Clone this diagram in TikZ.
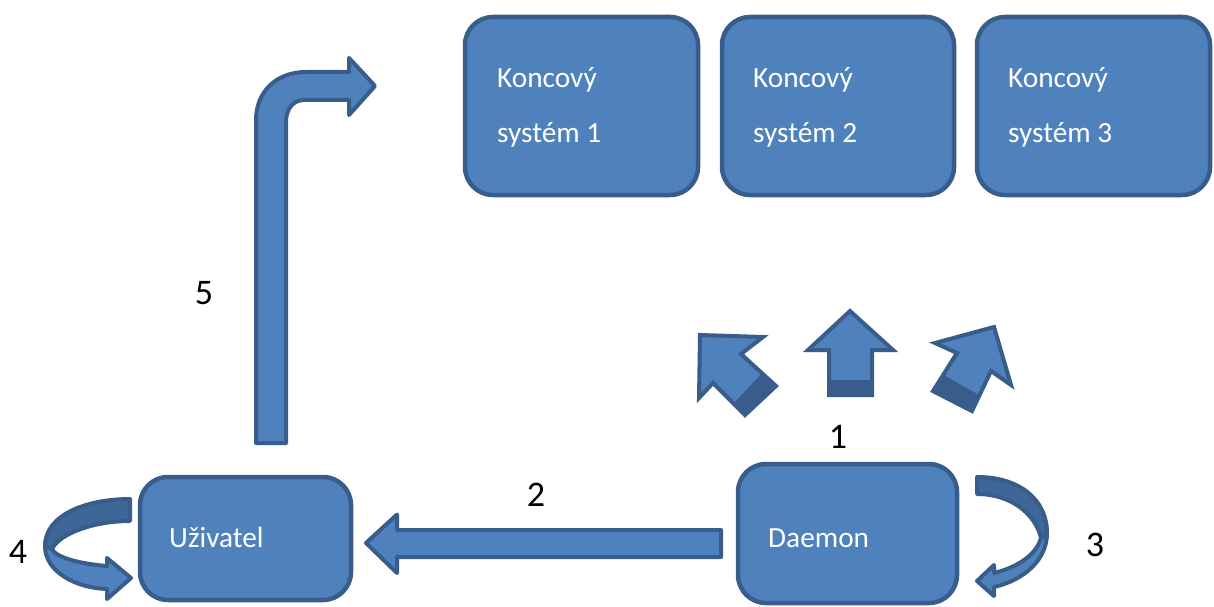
\documentclass[tikz,border=0pt]{standalone}
\usepackage{fontspec}
\setmainfont{Carlito}
\definecolor{bluefill}{HTML}{4F81BD}
\definecolor{blueline}{HTML}{385D8A}
\definecolor{blueback}{HTML}{3F6699}
\begin{document}
\begin{tikzpicture}[x=1pt,y=-1pt,
  box/.style={draw=blueline, fill=bluefill, line width=4.5pt, rounded corners=28pt, inner sep=0pt},
  boxtext/.style={text=white, font=\fontsize{29.3}{34}\selectfont, anchor=base west, inner sep=0pt},
  num/.style={font=\fontsize{36}{40}\selectfont, inner sep=0pt},
  blockarrow/.style={draw=blueline, fill=bluefill, line width=4pt, line join=round},
  backpart/.style={draw=blueline, fill=blueback, line width=4pt, line join=round},
  shade/.style={fill=blueline, draw=none}
]
\useasboundingbox[fill=white] (0,0) rectangle (1214,607);

% end systems
\node[box, minimum width=233pt, minimum height=178pt] (k1) at (581.5,106) {};
\node[box, minimum width=232pt, minimum height=178pt] (k2) at (838,106) {};
\node[box, minimum width=233pt, minimum height=178pt] (k3) at (1093.5,106) {};
\node[boxtext] (k1a) at (497,88) {Koncový};
\node[boxtext] (k1b) at (497,142) {systém 1};
\node[boxtext] (k2a) at (753,88) {Koncový};
\node[boxtext] (k2b) at (753,142) {systém 2};
\node[boxtext] (k3a) at (1008,88) {Koncový};
\node[boxtext] (k3b) at (1008,142) {systém 3};

% user and daemon
\node[box, minimum width=211pt, minimum height=123pt] (user) at (245.5,538.5) {};
\node[box, minimum width=219pt, minimum height=139pt] (daemon) at (847.5,533.5) {};
\node[boxtext] (usert) at (169,547) {Uživatel};
\node[boxtext] (daemont) at (768,547) {Daemon};

% step 2: daemon -> user
\draw[blockarrow] (721,530) -- (397,530) -- (397,514.5) -- (366,543) -- (397,573) -- (397,557) -- (721,557) -- cycle;

% step 5: bent arrow from user towards the end systems
\draw[blockarrow] (256,443) -- (256,120) .. controls (256,92) and (276,72) .. (306,72)
  -- (349,72) -- (349,58) -- (375,86) -- (349,115) -- (349,100) -- (304,100)
  .. controls (294,100) and (286,108) .. (286,122) -- (286,443) -- cycle;

% step 1: three block arrows fanning out
\fill[bluefill] (829,395) -- (829,350) -- (808,350) -- (850,311) -- (893,350) -- (872,350) -- (872,395) -- cycle;
\fill[shade] (827,380) rectangle (874,397);
\draw[blueline, line width=4pt, line join=miter] (829,395) -- (829,350) -- (808,350) -- (850,311) -- (893,350) -- (872,350) -- (872,395) -- cycle;

\fill[bluefill] (700,335) -- (763,337) -- (741,354) -- (776,386) -- (745,415) -- (713,383) -- (699,398) -- cycle;
\fill[shade] (762,373) -- (778,386) -- (745,417) -- (733,404) -- cycle;
\draw[blueline, line width=4pt, line join=miter] (700,335) -- (763,337) -- (741,354) -- (776,386) -- (745,415) -- (713,383) -- (699,398) -- cycle;

\fill[bluefill] (994,327) -- (1011,385) -- (991,371) -- (972,411) -- (933,391) -- (957,353) -- (935,343) -- cycle;
\fill[shade] (942,374) -- (979,395) -- (972,413) -- (931,392) -- cycle;
\draw[blueline, line width=4pt, line join=miter] (994,327) -- (1011,385) -- (991,371) -- (972,411) -- (933,391) -- (957,353) -- (935,343) -- cycle;

% step 4: user loops back to itself
\draw[backpart] (130,499) .. controls (86,499) and (45,515) .. (45,546) -- (52,549)
  .. controls (60,533) and (95,521) .. (130,521) -- cycle;
\draw[blockarrow] (45,546) .. controls (45,572) and (76,588) .. (107,589) -- (107,599) -- (131,578)
  -- (107,558) -- (107,566) .. controls (82,564) and (56,558) .. (52,549) -- cycle;

% step 3: daemon loops back to itself
\draw[backpart] (977,477) .. controls (1020,477) and (1047,500) .. (1047,533) -- (1041,538)
  .. controls (1035,513) and (1010,494) .. (977,494) -- cycle;
\draw[blockarrow] (1047,533) .. controls (1047,560) and (1024,580) .. (994,587) -- (994,596) -- (977,581)
  -- (994,565) -- (994,573) .. controls (1015,568) and (1036,556) .. (1041,538) -- cycle;

% step numbers
\node[num] (n1) at (838,437) {1};
\node[num] (n2) at (536,495) {2};
\node[num] (n3) at (1095,545) {3};
\node[num] (n4) at (18,552) {4};
\node[num] (n5) at (204,293) {5};
\end{tikzpicture}
\end{document}
